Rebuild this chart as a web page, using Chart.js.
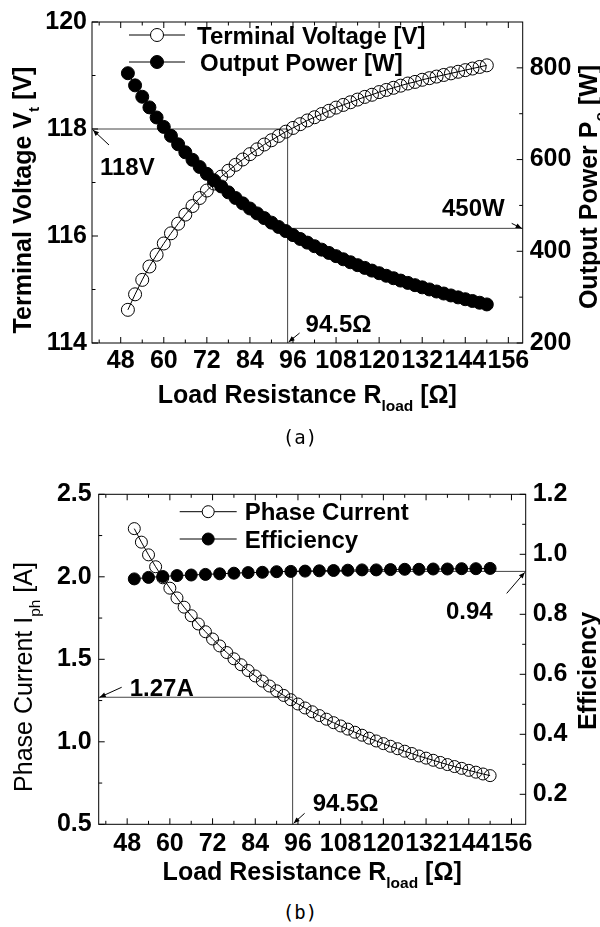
<!DOCTYPE html>
<html><head><meta charset="utf-8">
<script src="https://cdn.jsdelivr.net/npm/chart.js@4.4.0/dist/chart.umd.min.js"></script>
<style>
body{margin:0;background:#fff;width:600px;height:927px;position:relative;overflow:hidden}
canvas{position:absolute;left:0}
#ca{top:0}
#cb{top:465px}
.cap{position:absolute;left:0;width:600px;text-align:center;font-family:"DejaVu Sans Mono",monospace;font-size:19px;line-height:20px;color:#000}
</style></head>
<body>
<canvas id="ca" width="600" height="430"></canvas>
<canvas id="cb" width="600" height="430"></canvas>
<div class="cap" style="top:427px">(a)</div>
<div class="cap" style="top:902px">(b)</div>
<script>
// ---------- data ----------
const loadR = [50,52,54,56,58,60,62,64,66,68,70,72,74,76,78,80,82,84,86,88,90,92,94,96,98,100,102,104,106,108,110,112,114,116,118,120,122,124,126,128,130,132,134,136,138,140,142,144,146,148,150];
const terminalVoltage = [114.62,114.91,115.18,115.43,115.65,115.86,116.05,116.23,116.40,116.56,116.71,116.85,116.98,117.11,117.22,117.33,117.43,117.53,117.62,117.71,117.79,117.87,117.95,118.02,118.09,118.16,118.22,118.28,118.34,118.40,118.45,118.50,118.55,118.60,118.64,118.69,118.73,118.77,118.81,118.85,118.88,118.92,118.95,118.98,119.01,119.04,119.07,119.10,119.13,119.16,119.19];
const outputPower = [788.3,761.8,737.0,713.8,691.8,671.2,651.7,633.3,615.9,599.4,583.8,568.9,554.8,541.4,528.5,516.2,504.5,493.3,482.6,472.4,462.5,453.0,444.0,435.3,426.9,418.9,411.1,403.6,396.4,389.4,382.6,376.1,369.8,363.8,357.9,352.2,346.6,341.3,336.1,331.1,326.1,321.4,316.8,312.3,307.9,303.7,299.5,295.5,291.6,287.8,284.1];
const phaseCurrent = [2.292,2.210,2.133,2.061,1.994,1.931,1.872,1.816,1.764,1.714,1.667,1.623,1.581,1.541,1.503,1.467,1.432,1.399,1.368,1.338,1.309,1.281,1.255,1.229,1.205,1.182,1.159,1.137,1.116,1.096,1.077,1.058,1.040,1.022,1.005,0.989,0.973,0.958,0.943,0.929,0.914,0.901,0.888,0.875,0.862,0.850,0.839,0.827,0.816,0.805,0.795];
const effR = [50,54,58,62,66,70,74,78,82,86,90,94,98,102,106,110,114,118,122,126,130,134,138,142,146,150];
const efficiency = [0.918,0.923,0.926,0.929,0.931,0.933,0.935,0.937,0.939,0.940,0.942,0.943,0.944,0.945,0.946,0.947,0.948,0.948,0.949,0.950,0.950,0.951,0.951,0.952,0.952,0.953];

const xTicks = [48,60,72,84,96,108,120,132,144,156];
const xMinor = [42,54,66,78,90,102,114,126,138,150];
const vTicks = [114,116,118,120], vMinor = [115,117,119];
const pTicks = [200,400,600,800], pMinor = [300,500,700];
const iTicks = [0.5,1.0,1.5,2.0,2.5], iMinor = [0.75,1.25,1.75,2.25];
const eTicks = [0.2,0.4,0.6,0.8,1.0,1.2], eMinor = [0.3,0.5,0.7,0.9,1.1];

const opR = 94.5, opV = 118, opP = 450, opI = 1.27, opEff = 0.943;

// ---------- helpers ----------
const FONT = '"Liberation Sans", Arial, sans-serif';
function pts(xs, ys){ return xs.map((x,i)=>({x:x, y:ys[i]})); }
function setTicks(arr){ return s => { s.ticks = arr.map(v=>({value:v})); }; }
function rich(ctx, segs, size, weight, cx, cy, rot){
  ctx.save(); ctx.translate(cx, cy); ctx.rotate(rot);
  let w = 0;
  const parts = segs.map(s=>{
    const fs = s.sub ? size*0.62 : size;
    ctx.font = weight+' '+fs+'px '+FONT;
    const mw = ctx.measureText(s.t).width; w += mw;
    return {t:s.t, fs:fs, mw:mw, sub:s.sub};
  });
  let x = -w/2; const base = size*0.36;
  ctx.fillStyle='#000'; ctx.textAlign='left'; ctx.textBaseline='alphabetic';
  parts.forEach(p=>{ ctx.font = weight+' '+p.fs+'px '+FONT; ctx.fillText(p.t, x, base + (p.sub? size*0.3:0)); x += p.mw; });
  ctx.restore();
}
function seg(ctx,x1,y1,x2,y2){ ctx.beginPath(); ctx.moveTo(x1,y1); ctx.lineTo(x2,y2); ctx.stroke(); }
function arrow(ctx,x1,y1,x2,y2){
  ctx.save(); ctx.strokeStyle='#000'; ctx.fillStyle='#000'; ctx.lineWidth=1;
  seg(ctx,x1,y1,x2,y2);
  const a=Math.atan2(y2-y1,x2-x1), L=6, W=2.5;
  ctx.beginPath(); ctx.moveTo(x2,y2);
  ctx.lineTo(x2-L*Math.cos(a)+W*Math.sin(a), y2-L*Math.sin(a)-W*Math.cos(a));
  ctx.lineTo(x2-L*Math.cos(a)-W*Math.sin(a), y2-L*Math.sin(a)+W*Math.cos(a));
  ctx.closePath(); ctx.fill(); ctx.restore();
}
function label(ctx, t, x, y, align){
  ctx.save(); ctx.fillStyle='#000'; ctx.font='bold 24px '+FONT; ctx.textAlign=align; ctx.textBaseline='alphabetic';
  ctx.fillText(t,x,y); ctx.restore();
}
function frameAndTicks(chart, left, right){
  const ctx=chart.ctx, ca=chart.chartArea, xs=chart.scales.x, yl=chart.scales.y, yr=chart.scales.y2;
  ctx.save(); ctx.strokeStyle='#000'; ctx.lineWidth=1;
  ctx.strokeRect(ca.left, ca.top, ca.right-ca.left, ca.bottom-ca.top);
  const M=6, m=3.5;
  xTicks.forEach(v=>{const p=xs.getPixelForValue(v); seg(ctx,p,ca.bottom,p,ca.bottom-M); seg(ctx,p,ca.top,p,ca.top+M);});
  xMinor.forEach(v=>{const p=xs.getPixelForValue(v); seg(ctx,p,ca.bottom,p,ca.bottom-m); seg(ctx,p,ca.top,p,ca.top+m);});
  left[0].forEach(v=>{const p=yl.getPixelForValue(v); seg(ctx,ca.left,p,ca.left+M,p);});
  left[1].forEach(v=>{const p=yl.getPixelForValue(v); seg(ctx,ca.left,p,ca.left+m,p);});
  right[0].forEach(v=>{const p=yr.getPixelForValue(v); seg(ctx,ca.right,p,ca.right-M,p);});
  right[1].forEach(v=>{const p=yr.getPixelForValue(v); seg(ctx,ca.right,p,ca.right-m,p);});
  ctx.restore();
}
function legendRow(ctx, x1, x2, y, r, filled, text, tx){
  ctx.save(); ctx.strokeStyle='#000'; ctx.lineWidth=1; seg(ctx,x1,y,x2,y);
  ctx.beginPath(); ctx.arc((x1+x2)/2, y, r, 0, Math.PI*2);
  if(filled){ctx.fillStyle='#000'; ctx.fill();} else {ctx.fillStyle='#fff'; ctx.fill();}
  ctx.stroke();
  ctx.fillStyle='#000'; ctx.font='bold 24px '+FONT; ctx.textAlign='left'; ctx.textBaseline='alphabetic';
  ctx.fillText(text, tx, y+8.6); ctx.restore();
}
const tickFont = {family: FONT, size: 25, weight: 'bold'};
function baseScale(extra){
  return Object.assign({type:'linear', grid:{display:false, drawTicks:false, tickLength:0}, border:{display:false},
    ticks:Object.assign({autoSkip:false, maxRotation:0, minRotation:0, color:'#000', font:tickFont}, extra.ticks||{})}, extra.rest);
}
function ds(data, axis, filled, r){
  return {data:data, yAxisID:axis, borderColor:'#000', borderWidth:1, pointRadius:r, pointBorderWidth:1,
    pointBorderColor:'#000', pointBackgroundColor: filled ? '#000' : 'rgba(0,0,0,0)', showLine:true, tension:0, fill:false};
}

// ---------- chart (a) ----------
const decorA = {
  id:'decorA',
  beforeDatasetsDraw(chart){
    const ctx=chart.ctx, ca=chart.chartArea, xs=chart.scales.x;
    const px=xs.getPixelForValue(opR), py1=chart.scales.y.getPixelForValue(opV), py2=chart.scales.y2.getPixelForValue(opP);
    ctx.save(); ctx.strokeStyle='#444'; ctx.lineWidth=1;
    seg(ctx,ca.left,py1,px,py1); seg(ctx,px,py1,px,ca.bottom); seg(ctx,px,py2,ca.right,py2);
    ctx.restore();
  },
  afterDatasetsDraw(chart){
    const ctx=chart.ctx, ca=chart.chartArea, xs=chart.scales.x;
    frameAndTicks(chart,[vTicks,vMinor],[pTicks,pMinor]);
    const px=xs.getPixelForValue(opR), py1=chart.scales.y.getPixelForValue(opV), py2=chart.scales.y2.getPixelForValue(opP);
    arrow(ctx, ca.left+17, py1+16, ca.left+1, py1+1); label(ctx,'118V', ca.left+8, py1+46, 'left');
    arrow(ctx, ca.right-11, py2-5, ca.right-1, py2); label(ctx,'450W', ca.right-18, py2-12, 'right');
    arrow(ctx, px+12, ca.bottom-10, px+1, ca.bottom-1); label(ctx,'94.5\u03A9', px+18, ca.bottom-11, 'left');
    legendRow(ctx, ca.left+37, ca.left+93, ca.top+13, 6.5, false, 'Terminal Voltage [V]', ca.left+105);
    legendRow(ctx, ca.left+37, ca.left+93, ca.top+40, 6.5, true, 'Output Power [W]', ca.left+108);
    rich(ctx,[{t:'Terminal Voltage V'},{t:'t',sub:true},{t:' [V]'}],25,'bold',22,ca.top+178,-Math.PI/2);
    rich(ctx,[{t:'Output Power P'},{t:'o',sub:true},{t:' [W]'}],25,'bold',588,ca.top+165,-Math.PI/2);
    rich(ctx,[{t:'Load Resistance R'},{t:'load',sub:true},{t:' [\u03A9]'}],25,'bold',(ca.left+ca.right)/2,ca.bottom+51,0);
  }
};
new Chart(document.getElementById('ca'), {
  type:'line',
  data:{datasets:[ ds(pts(loadR,outputPower),'y2',true,6.5), ds(pts(loadR,terminalVoltage),'y',false,6.5) ]},
  options:{
    responsive:false, animation:false, devicePixelRatio:1,
    layout:{padding:{top:22,left:0,right:0,bottom:0}},
    plugins:{legend:{display:false}, tooltip:{enabled:false}},
    scales:{
      x: baseScale({ticks:{padding:3}, rest:{position:'bottom', min:40, max:160, afterBuildTicks:setTicks(xTicks), afterFit:s=>{s.height=87;}}}),
      y: baseScale({ticks:{padding:5}, rest:{position:'left', min:114, max:120, afterBuildTicks:setTicks(vTicks), afterFit:s=>{s.width=92;}}}),
      y2: baseScale({ticks:{padding:7}, rest:{position:'right', min:200, max:900, afterBuildTicks:setTicks(pTicks), afterFit:s=>{s.width=77.3;}}})
    }
  },
  plugins:[decorA]
});

// ---------- chart (b) ----------
const decorB = {
  id:'decorB',
  beforeDatasetsDraw(chart){
    const ctx=chart.ctx, ca=chart.chartArea, xs=chart.scales.x;
    const px=xs.getPixelForValue(opR), pyI=chart.scales.y.getPixelForValue(opI), pyE=chart.scales.y2.getPixelForValue(opEff);
    ctx.save(); ctx.strokeStyle='#444'; ctx.lineWidth=1;
    seg(ctx,ca.left,pyI,px,pyI); seg(ctx,px,pyE,px,ca.bottom); seg(ctx,px,pyE,ca.right,pyE);
    ctx.restore();
  },
  afterDatasetsDraw(chart){
    const ctx=chart.ctx, ca=chart.chartArea, xs=chart.scales.x;
    frameAndTicks(chart,[iTicks,iMinor],[eTicks,eMinor]);
    const px=xs.getPixelForValue(opR), pyI=chart.scales.y.getPixelForValue(opI), pyE=chart.scales.y2.getPixelForValue(opEff);
    arrow(ctx, ca.left+23, pyI-10, ca.left+1, pyI); label(ctx,'1.27A', ca.left+31, pyI-1, 'left');
    arrow(ctx, ca.right-19, pyE+22, ca.right-1, pyE+1); label(ctx,'0.94', ca.right-33, pyE+48, 'right');
    arrow(ctx, px+12, ca.bottom-11, px+1, ca.bottom-1); label(ctx,'94.5\u03A9', px+20, ca.bottom-13, 'left');
    legendRow(ctx, ca.left+81, ca.left+138, ca.top+17.4, 6, false, 'Phase Current', ca.left+146);
    legendRow(ctx, ca.left+81, ca.left+138, ca.top+44.7, 6, true, 'Efficiency', ca.left+146);
    rich(ctx,[{t:'Phase Current I'},{t:'ph',sub:true},{t:' [A]'}],25,'normal',23,212,-Math.PI/2);
    rich(ctx,[{t:'Efficiency'}],25,'bold',587,206,-Math.PI/2);
    rich(ctx,[{t:'Load Resistance R'},{t:'load',sub:true},{t:' [\u03A9]'}],25,'bold',(ca.left+ca.right)/2,ca.bottom+47,0);
  }
};
new Chart(document.getElementById('cb'), {
  type:'line',
  data:{datasets:[ ds(pts(effR,efficiency),'y2',true,6), ds(pts(loadR,phaseCurrent),'y',false,6) ]},
  options:{
    responsive:false, animation:false, devicePixelRatio:1,
    layout:{padding:{top:29.3,left:0,right:0,bottom:0}},
    plugins:{legend:{display:false}, tooltip:{enabled:false}},
    scales:{
      x: baseScale({ticks:{padding:5}, rest:{position:'bottom', min:40, max:160, afterBuildTicks:setTicks(xTicks), afterFit:s=>{s.height=70.7;}}}),
      y: baseScale({ticks:{padding:7, callback:v=>Number(v).toFixed(1)}, rest:{position:'left', min:0.5, max:2.5, afterBuildTicks:setTicks(iTicks), afterFit:s=>{s.width=98.7;}}}),
      y2: baseScale({ticks:{padding:7, callback:v=>Number(v).toFixed(1)}, rest:{position:'right', min:0.1, max:1.2, afterBuildTicks:setTicks(eTicks), afterFit:s=>{s.width=74.3;}}})
    }
  },
  plugins:[decorB]
});
</script>
</body></html>
